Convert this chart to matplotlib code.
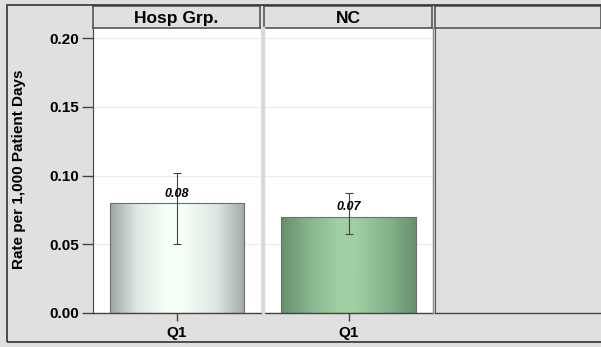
import matplotlib.pyplot as plt
import numpy as np
from matplotlib.colors import LinearSegmentedColormap
from matplotlib.patches import Rectangle

plt.rcParams['font.family'] = ['Liberation Sans', 'DejaVu Sans']

# Data
panels = ['Hosp Grp.', 'NC']
categories = ['Q1']
rates = [0.08, 0.07]
err_low = [0.05, 0.0575]
err_high = [0.102, 0.087]
labels = ['0.08', '0.07']

# Bar gradients (edge -> centre -> edge)
grad_colors = [
    ['#9ea7a3', '#dfe8e3', '#f4fff7', '#f4fff7', '#dce5e0', '#a0a9a5'],
    ['#658f6b', '#86b48b', '#9fcfa3', '#9fcfa3', '#84b289', '#658f6b'],
]

W, H = 601, 347
bg = '#e0e0e0'
fig = plt.figure(figsize=(W / 100, H / 100), dpi=100, facecolor=bg)

# outer frame
fig.patches.append(Rectangle((7 / W, 1 - 342 / H), 1.0, (342 - 5) / H,
                             transform=fig.transFigure, fill=False,
                             edgecolor='#333333', lw=1.2))


def px_axes(x0, x1, y0, y1):
    return fig.add_axes([x0 / W, 1 - y1 / H, (x1 - x0) / W, (y1 - y0) / H])


panel_x = [(93, 261), (264, 433), (435, 602)]
ymax = 0.2073

for i, (x0, x1) in enumerate(panel_x):
    ax = px_axes(x0, x1, 28, 313)
    ax.set_ylim(0, ymax)
    ax.set_xlim(-0.5, 0.5)
    for s in ['top', 'right', 'left']:
        ax.spines[s].set_visible(False)
    ax.spines['bottom'].set_color('#444444')
    ax.spines['bottom'].set_linewidth(1.0)

    # strip header
    sax = px_axes(x0, x1 - 1, 6, 28)
    sax.set_facecolor(bg)
    sax.set_xticks([])
    sax.set_yticks([])
    for s in sax.spines.values():
        s.set_color('#555555')
        s.set_linewidth(1.2)

    if i >= len(panels):
        ax.set_facecolor(bg)
        ax.spines['left'].set_visible(True)
        ax.spines['left'].set_color('#555555')
        ax.set_xticks([])
        ax.set_yticks([])
        continue

    ax.set_facecolor('white')
    sax.text(0.5, 0.45, panels[i], transform=sax.transAxes, ha='center',
             va='center', fontsize=12.5, fontweight='bold')

    ax.set_yticks([0.0, 0.05, 0.10, 0.15, 0.20])
    ax.yaxis.grid(True, color='#ececec', lw=1.0)
    ax.set_axisbelow(True)
    ax.set_xticks(range(len(categories)))
    ax.set_xticklabels(categories, fontsize=11, fontweight='bold')
    ax.tick_params(axis='x', length=6, width=1, color='#444444', pad=3)

    if i == 0:
        ax.spines['left'].set_visible(True)
        ax.spines['left'].set_color('#444444')
        ax.tick_params(axis='y', length=8, width=1, color='#444444', pad=2,
                       labelsize=11)
        ax.set_yticklabels(['%.2f' % v for v in ax.get_yticks()],
                           fontweight='bold')
    else:
        ax.tick_params(axis='y', length=0, labelleft=False)

    bars = ax.bar([0], [rates[i]], width=0.8, color='none',
                  edgecolor='#6e6e6e', lw=0.8, zorder=3)
    cmap = LinearSegmentedColormap.from_list(
        'g%d' % i, list(zip([0, 0.2, 0.42, 0.55, 0.8, 1.0], grad_colors[i])))
    grad = np.linspace(0, 1, 256).reshape(1, -1)
    im = ax.imshow(grad, cmap=cmap, aspect='auto', extent=[-0.4, 0.4, 0, rates[i]],
                   zorder=2)
    im.set_clip_path(bars[0])
    ax.set_xlim(-0.5, 0.5)
    ax.set_ylim(0, ymax)

    ax.errorbar([0], [rates[i]],
                yerr=[[rates[i] - err_low[i]], [err_high[i] - rates[i]]],
                fmt='none', ecolor='#444444', elinewidth=0.8, capsize=3,
                capthick=0.8, zorder=4)
    ax.annotate(labels[i], (0, rates[i]), xytext=(0, 2.5), textcoords='offset points',
                ha='center', va='bottom', fontsize=9, fontweight='bold',
                fontstyle='italic', zorder=5)

fig.text(19 / W, 1 - 169 / H, 'Rate per 1,000 Patient Days', rotation=90,
         ha='center', va='center', fontsize=11, fontweight='bold')

# separators between panels
fig.add_artist(plt.Line2D([262.5 / W, 262.5 / W], [1 - 313 / H, 1 - 28 / H],
                          transform=fig.transFigure, color='#d8d8d8', lw=2.5))
fig.add_artist(plt.Line2D([432.5 / W, 432.5 / W], [1 - 313 / H, 1 - 28 / H],
                          transform=fig.transFigure, color='#888888', lw=1))

fig.savefig('out.png', dpi=100, facecolor=bg)
